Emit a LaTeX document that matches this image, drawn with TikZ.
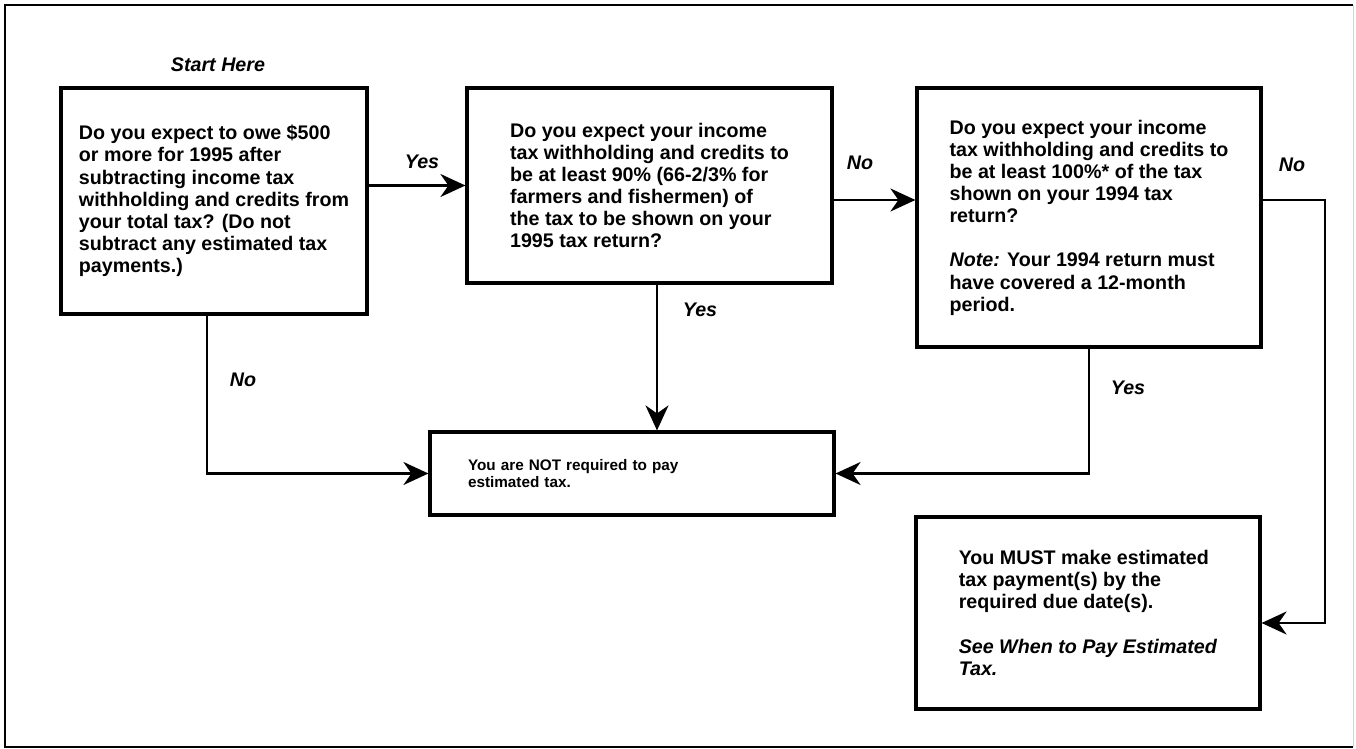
\documentclass[tikz,border=0pt]{standalone}
\usepackage{fontspec}
\setmainfont{Liberation Sans}
\usetikzlibrary{arrows.meta}

\begin{document}
\begin{tikzpicture}[
  font=\fontsize{11.2}{12.6}\selectfont\bfseries,
  question/.style={draw=black,line width=1.8pt,align=left,inner sep=0pt},
  outcome/.style={draw=black,line width=1.8pt,align=left,inner sep=0pt},
  flow/.style={-{Stealth[length=5mm,width=4.6mm,inset=1.6mm]},line width=1.3pt},
  reply/.style={font=\fontsize{11.2}{12.6}\selectfont\bfseries\itshape,inner sep=1pt}
]
\useasboundingbox (0,0) rectangle (27.12,14.98);
\draw[line width=1.2pt] (27.06,14.88) -- (0.10,14.88) -- (0.10,0.04) -- (27.06,0.04);
\draw[gray!35,line width=0.4pt] (27.06,14.88) -- (27.06,0.04);

\node[reply] (start) at (4.36,13.68) {Start Here};

\node[question,minimum width=6.12cm,minimum height=4.52cm] (owe) at (4.28,10.96)
  {Do you expect to owe \$500\\or more for 1995 after\\subtracting income tax\\withholding and credits from\\your total tax? (Do not\\subtract any estimated tax\\payments.)};
\node[question,minimum width=7.30cm,minimum height=3.90cm] (ninety) at (12.99,11.27)
  {Do you expect your income\\tax withholding and credits to\\be at least 90\% (66-2/3\% for\\farmers and fishermen) of\\the tax to be shown on your\\1995 tax return?};
\node[question,minimum width=6.88cm,minimum height=5.18cm] (hundred) at (21.78,10.63)
  {Do you expect your income\\tax withholding and credits to\\be at least 100\%* of the tax\\shown on your 1994 tax\\return?\\[12.6pt]\textit{Note:} Your 1994 return must\\have covered a 12-month\\period.};

\node[outcome,minimum width=8.08cm,minimum height=1.66cm,inner xsep=0.76cm,text width=6.56cm,
  font=\fontsize{8.7}{9.7}\selectfont\bfseries] (notreq) at (12.64,5.51)
  {You are NOT required to pay\\estimated tax.};
\node[outcome,minimum width=6.88cm,minimum height=3.84cm] (must) at (21.76,2.72)
  {You MUST make estimated\\tax payment(s) by the\\required due date(s).\\[12.6pt]\textit{See When to Pay Estimated}\\\textit{Tax.}};

% connectors
\coordinate (split) at ([yshift=-2.9mm]ninety.east);
\coordinate (turn) at (26.50,10.98);
\draw[flow] (owe.east |- ninety.west) -- (ninety.west);
\draw[flow] (split) -- (split -| hundred.west);
\draw[flow] ([xshift=1.5mm]ninety.south) -- ([xshift=1.5mm]ninety.south |- notreq.north);
\draw[flow] ([xshift=-1.4mm]owe.south) |- (notreq.west);
\draw[flow] (hundred.south) |- (notreq.east);
\draw[flow] (hundred.east |- turn) -- (turn) |- ([yshift=-2mm]must.east);

\node[reply] (yes1) at (8.44,11.74) {Yes};
\node[reply] (no1) at (17.20,11.72) {No};
\node[reply] (yes2) at (14.00,8.78) {Yes};
\node[reply] (no2) at (4.86,7.38) {No};
\node[reply] (yes3) at (22.56,7.22) {Yes};
\node[reply] (no3) at (25.84,11.68) {No};
\end{tikzpicture}
\end{document}
